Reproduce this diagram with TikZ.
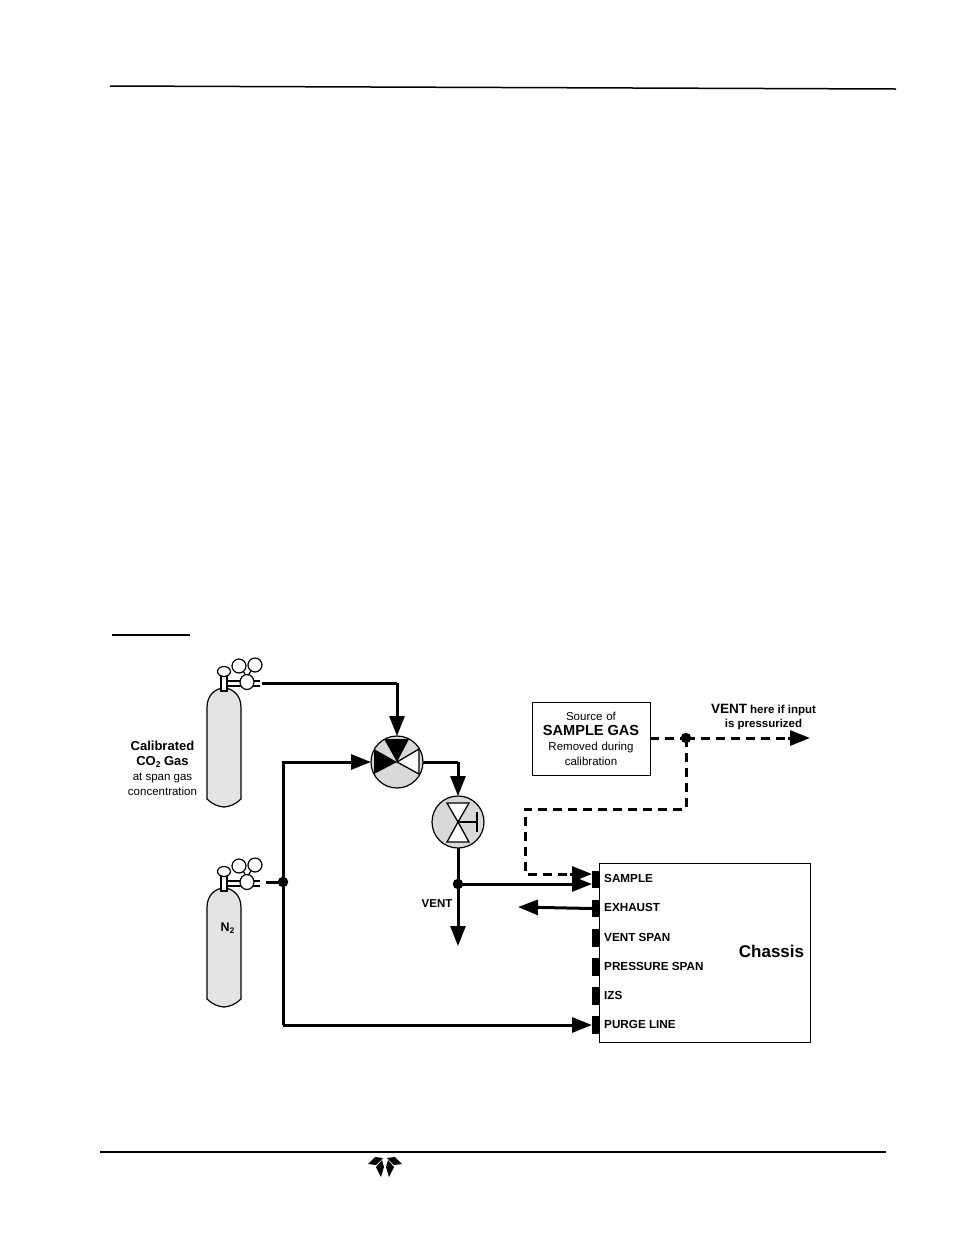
\documentclass[tikz,border=0pt]{standalone}
\usepackage{fontspec}
\setmainfont{Liberation Sans}
\usetikzlibrary{arrows.meta}
\usetikzlibrary{calc}
\newcommand{\subtwo}{\raisebox{-0.3ex}{\scalebox{0.65}{2}}}
\newcommand{\gasbottle}[2]{%
	\begin{scope}[shift={(224,#1)}]
		\draw[thin line,fill=bottlegray] (-17,19) .. controls (-17,7) and (-8,0) .. (0,0) .. controls (8,0) and (17,7) .. (17,19) -- (17,111) .. controls (12,116) and (5,119) .. (0,119) .. controls (-5,119) and (-12,116) .. (-17,111) -- cycle;
		\draw[thin line] (3,-7) -- (36,-7) (3,-2) -- (36,-2);
		\draw[thin line] (19,-17) -- (23,-11) (27,-17) -- (23,-11);
		\draw[thin line,fill=white] (-3,-14) rectangle (3,3);
		\draw[thin line,fill=white] (0,-16.5) ellipse (6.5 and 5);
		\draw[thin line,fill=white] (15,-22) circle (7);
		\draw[thin line,fill=white] (31,-23) circle (7);
		\draw[thin line,fill=white] (23,-6) ellipse (7 and 7.5);
		\coordinate (#2) at (38,-5);
	\end{scope}
}
\begin{document}
\begin{tikzpicture}[
	x=1pt, y=-1pt,
	> = {Triangle[length=20pt,width=15pt]},
	thin line/.style = {line width=1.2pt},
	box line/.style = {line width=0.9pt},
	pipe/.style = {line width=3pt,->},
	pipe plain/.style = {line width=3pt},
	pipe dashed/.style = {line width=3pt,dash pattern=on 9pt off 6pt},
	dot/.style = {fill,circle,inner sep=0pt,minimum size=10.5pt},
	valve/.style = {draw,circle,line width=1.2pt,fill=valvegray,inner sep=0pt,outer sep=0pt,minimum size=52pt},
	port/.style = {fill,inner sep=0pt,outer sep=0pt,minimum width=7pt,minimum height=17.5pt},
	portlabel/.style = {anchor=west,inner sep=0pt,font=\fontsize{11.7}{13}\selectfont\bfseries},
	textblock/.style = {align=center,inner sep=0pt,font=\fontsize{11.5}{15}\selectfont}
	]
	\definecolor{bottlegray}{HTML}{E3E3E3}
	\definecolor{valvegray}{HTML}{D9D9D9}
	\useasboundingbox (0,0) rectangle (954,1235);

	% page rules
	\draw[line width=1.5pt] (110,86) -- (896,89);
	\draw[line width=1.2pt] (112,635) -- (190,635);
	\draw[line width=1.5pt] (100,1152) -- (886,1152);
	\foreach \s in {1,-1} {
		\fill[shift={(385,0)},xscale=\s] (-17,1164) -- (-10,1157) -- (-2,1158) -- (-9,1165) -- cycle;
		\fill[shift={(385,0)},xscale=\s] (-3,1160) -- (-1,1167) -- (-4,1177) -- (-9,1167) -- cycle;
	}

	\gasbottle{688}{@co}
	\gasbottle{888}{@n}

	\coordinate (@top) at (397,683);
	\coordinate (@purge) at (283,1025);
	\coordinate (@down) at (458,762);
	\coordinate (@ventend) at (458,946);
	\coordinate (@ventout) at (810,738);
	\coordinate (@exhaustend) at (518,907);
	\coordinate (@dash1) at (686,809);
	\coordinate (@dash2) at (525,809);
	\coordinate (@dash3) at (525,874);
	\coordinate (@dashend) at (592,874);
	\coordinate (@sampleend) at (592,884);
	\coordinate (@nstart) at (266,882);

	% valves
	\node[valve] (mixvalve) at (397,762) {};
	\node[valve] (ventvalve) at (458,822) {};
	\fill (mixvalve.center) -- ++(-13,-23) -- ++(25,0) -- cycle;
	\fill (mixvalve.center) -- ++(-23,-13) -- ++(0,25) -- cycle;
	\draw[line width=1.3pt,fill=white] (mixvalve.center) -- ++(22,-13) -- ++(0,25) -- cycle;
	\draw[line width=1.3pt,fill=white] (ventvalve.center) -- ++(-11,-19) -- ++(22,0) -- cycle;
	\draw[line width=1.3pt,fill=white] (ventvalve.center) -- ++(-11,20) -- ++(22,0) -- cycle;
	\draw[thin line] (ventvalve.center) -- ++(19,0) ++(0,-10) -- ++(0,20);

	% chassis
	\node[draw,box line,inner sep=0pt,outer sep=0pt,minimum width=211pt,minimum height=179pt] (chassis) at (704.5,952.5) {};
	\node[port] (sample) at (595.5,879.5) {};
	\node[port] (exhaust) at (595.5,908.5) {};
	\node[port] (ventspan) at (595.5,938) {};
	\node[port] (pressurespan) at (595.5,967) {};
	\node[port] (izs) at (595.5,996) {};
	\node[port] (purgeline) at (595.5,1025) {};
	\node[portlabel] (samplelabel) at (604,878.5) {SAMPLE};
	\node[portlabel] (exhaustlabel) at (604,907.5) {EXHAUST};
	\node[portlabel] (ventspanlabel) at (604,937.5) {VENT SPAN};
	\node[portlabel] (pressurelabel) at (604,966.5) {PRESSURE SPAN};
	\node[portlabel] (izslabel) at (604,995) {IZS};
	\node[portlabel] (purgelabel) at (604,1024.5) {PURGE LINE};
	\node[inner sep=0pt,font=\fontsize{17}{20}\selectfont\bfseries] (chassislabel) at (771.5,951.5) {Chassis};

	\node[draw,box line,inner sep=0pt,outer sep=0pt,minimum width=118pt,minimum height=73pt,textblock,text width=118pt] (source) at (591,739) {Source of\\{\fontsize{14.6}{15}\selectfont\bfseries SAMPLE GAS}\\Removed during\\calibration};

	% pipes
	\draw[pipe plain] (@co) -- (@top);
	\draw[pipe] (@top) -- (mixvalve.north);
	\draw[pipe] (@purge) |- (mixvalve.west);
	\draw[pipe plain] (mixvalve.east) -- (@down);
	\draw[pipe] (@down) -- (ventvalve.north);
	\draw[pipe] (ventvalve.south) -- (@ventend);
	\node[dot] (ventdot) at (458,884) {};
	\node[dot] (purgedot) at (283,882) {};
	\node[dot] (splitdot) at (686,738) {};
	\draw[pipe] (ventdot.center) -- (@sampleend);
	\draw[pipe plain] (@nstart) -- (purgedot.center);
	\draw[pipe] (@purge) -- (purgeline.west);
	\draw[pipe] (exhaust.west) -- (@exhaustend);

	\draw[pipe dashed] (source.east |- splitdot) -- (splitdot.center);
	\draw[pipe dashed] (splitdot.center) -- (@dash1) -- (@dash2) -- (@dash3) -- ($(@dashend)+(-20,0)$);
	\draw[pipe,solid] ($(@dashend)+(-22,0)$) -- (@dashend);
	\draw[pipe dashed] (splitdot.center) -- ($(@ventout)+(-20,0)$);
	\draw[pipe,solid] ($(@ventout)+(-22,0)$) -- (@ventout);

	% labels
	\node[textblock] (caliblabel) at (162.5,768) {{\fontsize{13}{15}\selectfont\bfseries Calibrated}\\{\fontsize{13}{15}\selectfont\bfseries CO\subtwo{} Gas}\\at span gas\\concentration};
	\node[inner sep=0pt,font=\fontsize{12.5}{14}\selectfont\bfseries] (nlabel) at (227.5,928) {N\subtwo};
	\node[inner sep=0pt,font=\fontsize{11.5}{14}\selectfont\bfseries] (ventlabel) at (437,904) {VENT};
	\node[textblock,font=\fontsize{11.5}{14}\selectfont\bfseries] (ventherelabel) at (763.5,717) {{\fontsize{13.5}{14}\selectfont VENT} here if input\\is pressurized};
\end{tikzpicture}
\end{document}
